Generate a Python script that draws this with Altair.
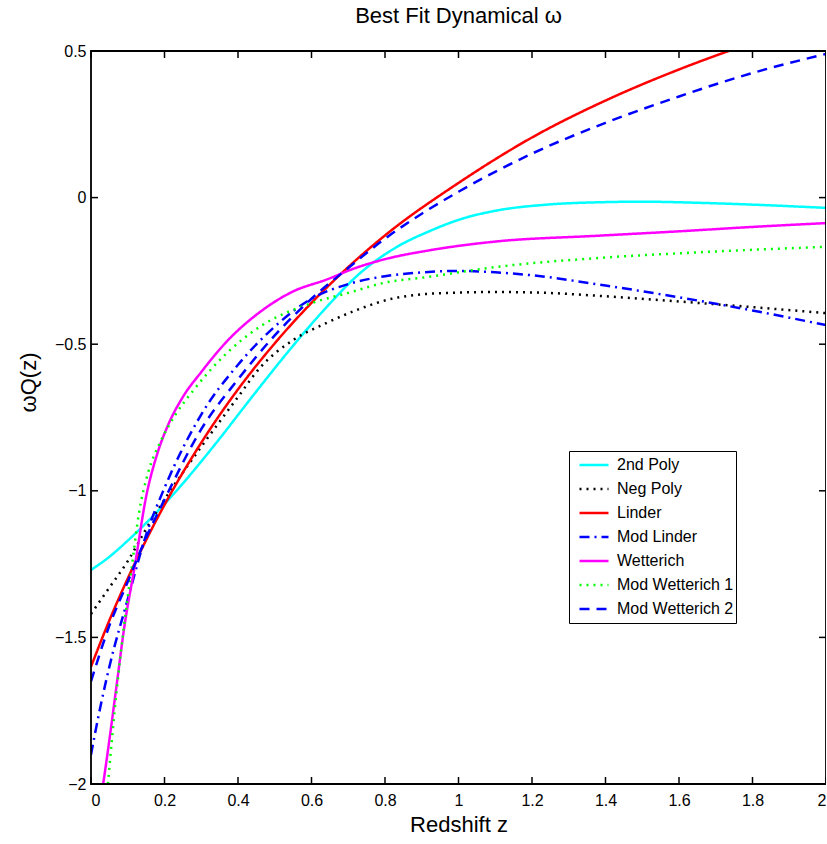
import altair as alt
import pandas as pd

# ---- data ----
names = ["2nd Poly", "Neg Poly", "Linder", "Mod Linder", "Wetterich",
         "Mod Wetterich 1", "Mod Wetterich 2"]
colors = ["#00FFFF", "#000000", "#FF0000", "#0000FF", "#FF00FF", "#00FF00", "#0000FF"]
dashes = [[1, 0], [2, 5], [1, 0], [10, 5, 2, 5], [1, 0], [2, 5], [10, 7]]

poly2_z = [0, 0.05, 0.1, 0.15, 0.2, 0.25, 0.3, 0.37, 0.41, 0.46, 0.55, 0.64, 0.73, 0.83,
           0.92, 1.01, 1.1, 1.24, 1.38, 1.5, 1.66, 1.8, 2.0]
poly2_w = [-1.27, -1.225, -1.17, -1.11, -1.045, -0.975, -0.90, -0.79, -0.725, -0.645, -0.505,
           -0.375, -0.26, -0.17, -0.115, -0.072, -0.045, -0.024, -0.016, -0.014, -0.018,
           -0.024, -0.035]

negpoly_z = [0, 0.05, 0.1, 0.15, 0.2, 0.3, 0.4, 0.46, 0.55, 0.64, 0.72, 0.83, 0.97, 1.1,
             1.24, 1.38, 1.66, 2.0]
negpoly_w = [-1.42, -1.33, -1.24, -1.13, -1.03, -0.85, -0.68, -0.58, -0.486, -0.428, -0.385,
             -0.342, -0.325, -0.322, -0.325, -0.335, -0.36, -0.394]

linder_z = [0, 0.05, 0.1, 0.15, 0.2, 0.3, 0.4, 0.5, 0.6, 0.7, 0.8, 1.0, 1.2, 1.4, 1.6, 1.8, 2.0]
linder_w = [-1.60, -1.442, -1.299, -1.168, -1.048, -0.836, -0.654, -0.497, -0.359, -0.237,
            -0.129, 0.05, 0.205, 0.331, 0.437, 0.528, 0.607]

modlinder_z = [0, 0.025, 0.05, 0.1, 0.15, 0.2, 0.3, 0.4, 0.5, 0.6, 0.7, 0.8, 0.9, 1.0, 1.1,
               1.2, 1.4, 1.6, 1.8, 2.0]
modlinder_w = [-1.90, -1.74, -1.60, -1.37, -1.15, -0.99, -0.74, -0.57, -0.44, -0.345, -0.295,
               -0.268, -0.255, -0.25, -0.255, -0.265, -0.30, -0.34, -0.385, -0.435]

wett_z = [0.02, 0.033, 0.05, 0.07, 0.09, 0.12, 0.15, 0.18, 0.21, 0.25, 0.3, 0.37, 0.46, 0.55,
          0.64, 0.72, 0.8, 0.92, 1.1, 1.38, 1.6, 1.8, 2.0]
wett_w = [-2.10, -2.0, -1.85, -1.66, -1.47, -1.25, -1.02, -0.875, -0.775, -0.68, -0.595, -0.49,
          -0.39, -0.32, -0.28, -0.24, -0.21, -0.18, -0.15, -0.13, -0.115, -0.10, -0.087]

modwett1_z = [0.046, 0.07, 0.09, 0.11, 0.13, 0.155, 0.19, 0.23, 0.28, 0.37, 0.46, 0.6, 0.7,
              0.8, 0.92, 1.1, 1.38, 1.6, 1.8, 2.0]
modwett1_w = [-2.0, -1.68, -1.46, -1.27, -1.08, -0.94, -0.83, -0.74, -0.655, -0.53, -0.44,
              -0.36, -0.325, -0.29, -0.27, -0.237, -0.206, -0.19, -0.178, -0.168]

modwett2_z = [0, 0.05, 0.1, 0.15, 0.2, 0.3, 0.4, 0.5, 0.6, 0.7, 0.8, 0.9, 1.0, 1.2, 1.4, 1.6,
              1.8, 2.0]
modwett2_w = [-1.65, -1.46, -1.31, -1.16, -1.03, -0.79, -0.62, -0.47, -0.345, -0.24, -0.14,
              -0.055, 0.02, 0.15, 0.255, 0.345, 0.425, 0.49]

x_ticks = [0, 0.2, 0.4, 0.6, 0.8, 1.0, 1.2, 1.4, 1.6, 1.8, 2.0]
y_ticks = [-2, -1.5, -1, -0.5, 0, 0.5]

series = [
    (poly2_z, poly2_w), (negpoly_z, negpoly_w), (linder_z, linder_w),
    (modlinder_z, modlinder_w), (wett_z, wett_w), (modwett1_z, modwett1_w),
    (modwett2_z, modwett2_w),
]
rows = []
for name, (zs, ws) in zip(names, series):
    for z, w in zip(zs, ws):
        rows.append({"model": name, "z": z, "w": w})
df = pd.DataFrame(rows)

W, H = 735, 733
xs = alt.Scale(domain=[0, 2], nice=False, zero=False)
ys = alt.Scale(domain=[-2, 0.5], nice=False, zero=False)

leg = alt.Legend(
    orient="none", legendX=478, legendY=400, title=None,
    strokeColor="black", fillColor="white", padding=2, clipHeight=24,
    symbolType="stroke", symbolSize=841, symbolStrokeWidth=2.5, symbolOffset=7,
    labelFontSize=16, labelFont="Liberation Sans", labelColor="black", labelOffset=7,
    rowPadding=0, cornerRadius=0,
)

lines = alt.Chart(df).mark_line(clip=True, strokeWidth=2.5, interpolate="monotone").encode(
    x=alt.X("z:Q", scale=xs,
            axis=alt.Axis(title="Redshift z", values=x_ticks, format="~g", ticks=False,
                          domain=False, grid=False, labelFontSize=16, labelPadding=8,
                          titleFontSize=22, titleFontWeight="normal", titlePadding=6,
                          labelFont="Liberation Sans", titleFont="Liberation Sans",
                          labelColor="black", titleColor="black")),
    y=alt.Y("w:Q", scale=ys,
            axis=alt.Axis(title="ωQ(z)", values=y_ticks, format="~g", ticks=False,
                          domain=False, grid=False, labelFontSize=16, labelPadding=5,
                          titleFontSize=22, titleFontWeight="normal",
                          titleAngle=270, titleX=-63, titleY=331, titleAlign="center",
                          titleBaseline="middle",
                          labelFont="Liberation Sans", titleFont="Liberation Sans",
                          labelColor="black", titleColor="black")),
    color=alt.Color("model:N", scale=alt.Scale(domain=names, range=colors),
                    sort=names, legend=leg),
    strokeDash=alt.StrokeDash("model:N", scale=alt.Scale(domain=names, range=dashes),
                              sort=names, legend=leg),
    detail="model:N",
)

xt = pd.DataFrame({"v": x_ticks})
yt = pd.DataFrame({"v": y_ticks})
tick_style = dict(color="black", strokeWidth=1.5)
bx = alt.Chart(xt).mark_rule(**tick_style).encode(
    x=alt.X("v:Q", scale=xs), y=alt.value(H), y2=alt.value(H - 7))
tx = alt.Chart(xt).mark_rule(**tick_style).encode(
    x=alt.X("v:Q", scale=xs), y=alt.value(0), y2=alt.value(7))
ly = alt.Chart(yt).mark_rule(**tick_style).encode(
    y=alt.Y("v:Q", scale=ys), x=alt.value(0), x2=alt.value(7))
ry = alt.Chart(yt).mark_rule(**tick_style).encode(
    y=alt.Y("v:Q", scale=ys), x=alt.value(W), x2=alt.value(W - 7))

frame = alt.Chart(pd.DataFrame({"a": [0]})).mark_rect(
    fill=None, stroke="black", strokeWidth=1.8).encode(
    x=alt.value(0), x2=alt.value(W), y=alt.value(0), y2=alt.value(H))

chart = alt.layer(bx, tx, ly, ry, lines, frame).properties(
    width=W, height=H,
    autosize=alt.AutoSizeParams(type="none"),
    padding={"left": 91, "top": 51, "right": 0, "bottom": 60},
    title=alt.Title("Best Fit Dynamical ω", fontSize=22, fontWeight="normal",
                    font="Liberation Sans", color="black", offset=15, anchor="middle"),
).configure_view(stroke=None).configure(background="white")

chart.save("out.html", embed_options={"renderer": "svg", "actions": False})
